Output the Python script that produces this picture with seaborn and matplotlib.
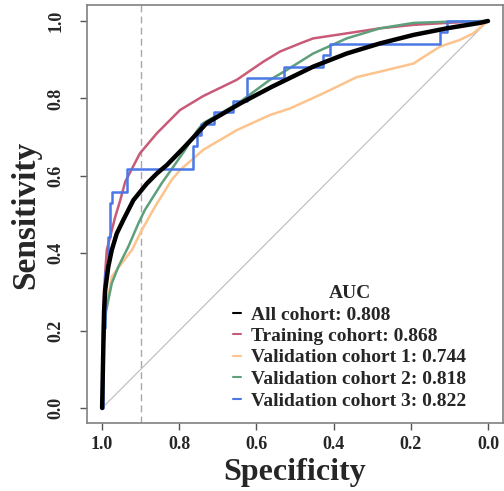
import numpy as np
import pandas as pd
import matplotlib
matplotlib.use("Agg")
import matplotlib.pyplot as plt
import seaborn as sns
from matplotlib.lines import Line2D

# ROC curves (specificity, sensitivity)
all_spec = [1.0, 0.997, 0.995, 0.992, 0.984, 0.975, 0.962, 0.945, 0.919, 0.884, 0.858, 0.832,
            0.789, 0.729, 0.642, 0.56, 0.453, 0.366, 0.280, 0.193, 0.107, 0.021, 0.0]
all_sens = [0.0, 0.15, 0.25, 0.305, 0.365, 0.408, 0.451, 0.486, 0.537, 0.58, 0.606, 0.628,
            0.672, 0.736, 0.787, 0.83, 0.882, 0.916, 0.942, 0.964, 0.981, 0.995, 1.0]

train_spec = [1.0, 0.998, 0.995, 0.988, 0.966, 0.953, 0.940, 0.902, 0.858, 0.798, 0.738, 0.651,
              0.582, 0.539, 0.487, 0.453, 0.366, 0.280, 0.193, 0.107, 0.0]
train_sens = [0.0, 0.2, 0.305, 0.408, 0.494, 0.537, 0.585, 0.658, 0.710, 0.770, 0.806, 0.848,
              0.895, 0.921, 0.942, 0.955, 0.968, 0.981, 0.990, 0.995, 1.0]

val1_spec = [1.0, 0.997, 0.99, 0.975, 0.962, 0.949, 0.923, 0.897, 0.863, 0.820, 0.798, 0.738,
             0.651, 0.565, 0.513, 0.427, 0.340, 0.280, 0.193, 0.159, 0.124, 0.073, 0.038, 0.0]
val1_sens = [0.0, 0.15, 0.25, 0.339, 0.357, 0.374, 0.408, 0.460, 0.520, 0.589, 0.615, 0.667,
             0.718, 0.757, 0.774, 0.813, 0.855, 0.869, 0.890, 0.912, 0.934, 0.951, 0.968, 1.0]

val2_spec = [1.0, 0.997, 0.99, 0.975, 0.958, 0.932, 0.906, 0.889, 0.846, 0.815, 0.785, 0.755,
             0.738, 0.651, 0.565, 0.522, 0.453, 0.366, 0.280, 0.193, 0.107, 0.0]
val2_sens = [0.0, 0.15, 0.25, 0.322, 0.365, 0.417, 0.477, 0.512, 0.580, 0.624, 0.667, 0.715,
             0.736, 0.785, 0.848, 0.873, 0.916, 0.955, 0.981, 0.995, 0.998, 1.0]

# validation cohort 3 is a small sample -> step curve
val3_spec = [1.0, 0.997, 0.992, 0.985, 0.979, 0.975, 0.936, 0.765, 0.755, 0.744, 0.709, 0.660,
             0.624, 0.529, 0.427, 0.409, 0.124, 0.107, 0.0]
val3_sens = [0.0, 0.206, 0.353, 0.441, 0.529, 0.559, 0.618, 0.676, 0.706, 0.735, 0.765, 0.794,
             0.853, 0.882, 0.912, 0.941, 0.971, 1.0, 1.0]

labels = ["All cohort: 0.808", "Training cohort: 0.868", "Validation cohort 1: 0.744",
          "Validation cohort 2: 0.818", "Validation cohort 3: 0.822"]
colors = ["black", "#C75B78", "#FDC38C", "#5E9F7C", "#4B78E6"]

sns.set_style("white")
plt.rcParams['font.family'] = ['Liberation Serif', 'DejaVu Serif']
plt.rcParams['font.weight'] = 'bold'

fig = plt.figure(figsize=(5.04, 4.91), dpi=100)
ax = fig.add_axes([0.172, 0.1375, 0.8268, 0.8513])

# reference diagonal and cut-off line
ax.plot([1, 0], [0, 1], color="#BBBBBB", lw=0.8, zorder=1)
ax.axvline(0.9, color="#A8A8A8", lw=1.0, dashes=(5, 3), zorder=1)

curves = [(train_spec, train_sens, colors[1], 1.8, None),
          (val1_spec, val1_sens, colors[2], 1.8, None),
          (val2_spec, val2_sens, colors[3], 1.8, None),
          (val3_spec, val3_sens, colors[4], 1.8, "steps-post"),
          (all_spec, all_sens, colors[0], 3.2, None)]
for spec, sens, col, lw, ds in curves:
    df = pd.DataFrame({"spec": spec, "sens": sens})
    kw = {"drawstyle": ds} if ds else {}
    sns.lineplot(data=df, x="spec", y="sens", sort=False, estimator=None,
                 color=col, lw=lw, ax=ax, **kw)

ax.set_xlim(1.04, -0.04)
ax.set_ylim(-0.04, 1.04)
ticks = [1.0, 0.8, 0.6, 0.4, 0.2, 0.0]
ax.set_xticks(ticks)
ax.set_xticklabels([f"{t:.1f}" for t in ticks])
ax.set_yticks(ticks)
ax.set_yticklabels([f"{t:.1f}" for t in ticks])
plt.setp(ax.get_yticklabels(), rotation=90, va="center")
ax.tick_params(axis="both", direction="out", length=5, width=1, color="#555555",
               labelsize=13, pad=4, left=True, bottom=True)
ax.tick_params(axis="y", pad=11)
for s in ax.spines.values():
    s.set_color("#808080")
    s.set_linewidth(1.2)

ax.set_xlabel("Specificity", fontsize=23, fontweight="bold")
ax.set_ylabel("Sensitivity", fontsize=24, fontweight="bold")
ax.xaxis.set_label_coords(0.5, -0.082)
ax.yaxis.set_label_coords(-0.108, 0.5)

handles = [Line2D([], [], color=c, lw=1.5) for c in colors]
leg = ax.legend(handles, labels, title="AUC", loc="upper left",
                bbox_to_anchor=(233 / 504, 1 - 285 / 491), bbox_transform=fig.transFigure,
                frameon=False, fontsize=14, handlelength=0.4, handletextpad=0.55,
                labelspacing=0.2, borderpad=0, borderaxespad=0,
                title_fontproperties={"weight": "bold", "size": 14})
for t in leg.get_texts():
    t.set_fontweight("bold")

fig.savefig("out.png", dpi=100)
